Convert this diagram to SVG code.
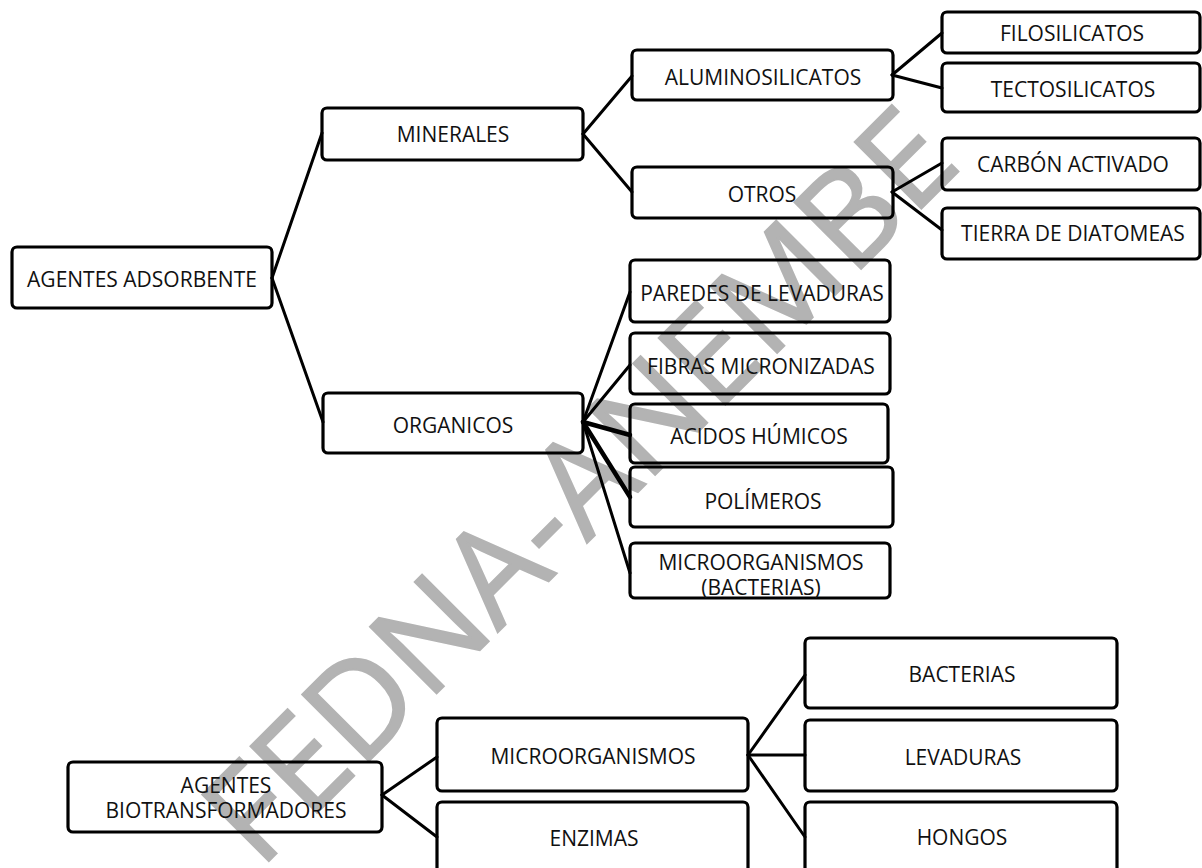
<svg xmlns="http://www.w3.org/2000/svg" width="1202" height="868" viewBox="0 0 1202 868">
<style>
.bg{fill:#ffffff}
.wm{font-family:"Open Sans","Liberation Sans",sans-serif;font-size:132px;fill:#b3b3b3;stroke:#b3b3b3;stroke-width:2}
.box{fill:none;stroke:#000;stroke-width:3.2;}
.t{font-family:"Open Sans","Liberation Sans",sans-serif;font-size:21px;fill:#111;text-anchor:middle}
.ln{stroke:#000;stroke-width:3;stroke-linecap:round;fill:none}
.thick{stroke-width:4.5}
</style>
<rect class="bg" x="0" y="0" width="1202" height="868"/>
<g id="watermark">
<text class="wm" text-anchor="middle" transform="translate(612,518) rotate(-45)">FEDNA-ANEMBE</text>
</g>
<g id="connectors">
<line class="ln" x1="272" y1="278" x2="322" y2="133"/>
<line class="ln" x1="272" y1="278" x2="323" y2="422"/>
<line class="ln" x1="583" y1="134" x2="632" y2="76"/>
<line class="ln" x1="583" y1="134" x2="632" y2="192"/>
<line class="ln" x1="892" y1="75" x2="942" y2="33"/>
<line class="ln" x1="892" y1="75" x2="942" y2="88"/>
<line class="ln" x1="892" y1="192" x2="942" y2="163"/>
<line class="ln" x1="892" y1="192" x2="942" y2="230"/>
<line class="ln" x1="583" y1="422" x2="630" y2="292"/>
<line class="ln" x1="583" y1="422" x2="630" y2="365"/>
<line class="ln thick" x1="583" y1="422" x2="630" y2="435"/>
<line class="ln thick" x1="583" y1="422" x2="630" y2="497"/>
<line class="ln" x1="583" y1="422" x2="630" y2="573"/>
<line class="ln" x1="382" y1="795" x2="437" y2="757"/>
<line class="ln" x1="382" y1="795" x2="437" y2="837"/>
<line class="ln" x1="748" y1="755" x2="805" y2="675"/>
<line class="ln" x1="748" y1="755" x2="805" y2="755"/>
<line class="ln" x1="748" y1="755" x2="805" y2="837"/>
</g>
<g id="n-agentes-adsorbente"><rect class="box" x="12" y="247" width="260" height="61" rx="5"/><text class="t" x="142" y="286.5">AGENTES ADSORBENTE</text></g>
<g id="n-minerales"><rect class="box" x="322" y="108" width="261" height="52" rx="5"/><text class="t" x="453" y="142">MINERALES</text></g>
<g id="n-organicos"><rect class="box" x="323" y="393" width="260" height="60" rx="5"/><text class="t" x="453" y="432.5">ORGANICOS</text></g>
<g id="n-aluminosilicatos"><rect class="box" x="632" y="50" width="261" height="50" rx="5"/><text class="t" x="763" y="84.5">ALUMINOSILICATOS</text></g>
<g id="n-otros"><rect class="box" x="632" y="167" width="261" height="51" rx="5"/><text class="t" x="762" y="201.5">OTROS</text></g>
<g id="n-filosilicatos"><rect class="box" x="942" y="12" width="258" height="41" rx="5"/><text class="t" x="1072" y="40.5">FILOSILICATOS</text></g>
<g id="n-tectosilicatos"><rect class="box" x="942" y="63" width="258" height="49" rx="5"/><text class="t" x="1073" y="97">TECTOSILICATOS</text></g>
<g id="n-carbon"><rect class="box" x="942" y="138" width="258" height="52" rx="5"/><text class="t" x="1073" y="172">CARBÓN ACTIVADO</text></g>
<g id="n-tierra"><rect class="box" x="942" y="208" width="258" height="51" rx="5"/><text class="t" x="1073" y="240.5">TIERRA DE DIATOMEAS</text></g>
<g id="n-paredes"><rect class="box" x="630" y="260" width="260" height="62" rx="5"/><text class="t" x="762" y="300.5">PAREDES DE LEVADURAS</text></g>
<g id="n-fibras"><rect class="box" x="630" y="333" width="260" height="61" rx="5"/><text class="t" x="761" y="373.5">FIBRAS MICRONIZADAS</text></g>
<g id="n-acidos"><rect class="box" x="630" y="404" width="258" height="59" rx="5"/><text class="t" x="759" y="443.5">ACIDOS HÚMICOS</text></g>
<g id="n-polimeros"><rect class="box" x="630" y="467" width="263" height="60" rx="5"/><text class="t" x="763" y="508.5">POLÍMEROS</text></g>
<g id="n-microorganismos-bacterias"><rect class="box" x="630" y="543" width="260" height="55" rx="5"/><text class="t"><tspan x="761" y="570">MICROORGANISMOS</tspan><tspan x="761" y="594.5">(BACTERIAS)</tspan></text></g>
<g id="n-agentes-bio"><rect class="box" x="68" y="762" width="314" height="70" rx="5"/><text class="t"><tspan x="226" y="793">AGENTES</tspan><tspan x="226" y="818">BIOTRANSFORMADORES</tspan></text></g>
<g id="n-microorganismos"><rect class="box" x="437" y="718" width="311" height="73" rx="5"/><text class="t" x="593" y="764">MICROORGANISMOS</text></g>
<g id="n-enzimas"><rect class="box" x="437" y="802" width="311" height="76" rx="5"/><text class="t" x="594" y="845.5">ENZIMAS</text></g>
<g id="n-bacterias"><rect class="box" x="805" y="638" width="312" height="70" rx="5"/><text class="t" x="962" y="681.5">BACTERIAS</text></g>
<g id="n-levaduras"><rect class="box" x="805" y="720" width="312" height="71" rx="5"/><text class="t" x="963" y="765">LEVADURAS</text></g>
<g id="n-hongos"><rect class="box" x="805" y="802" width="312" height="76" rx="5"/><text class="t" x="962" y="845">HONGOS</text></g>
</svg>
